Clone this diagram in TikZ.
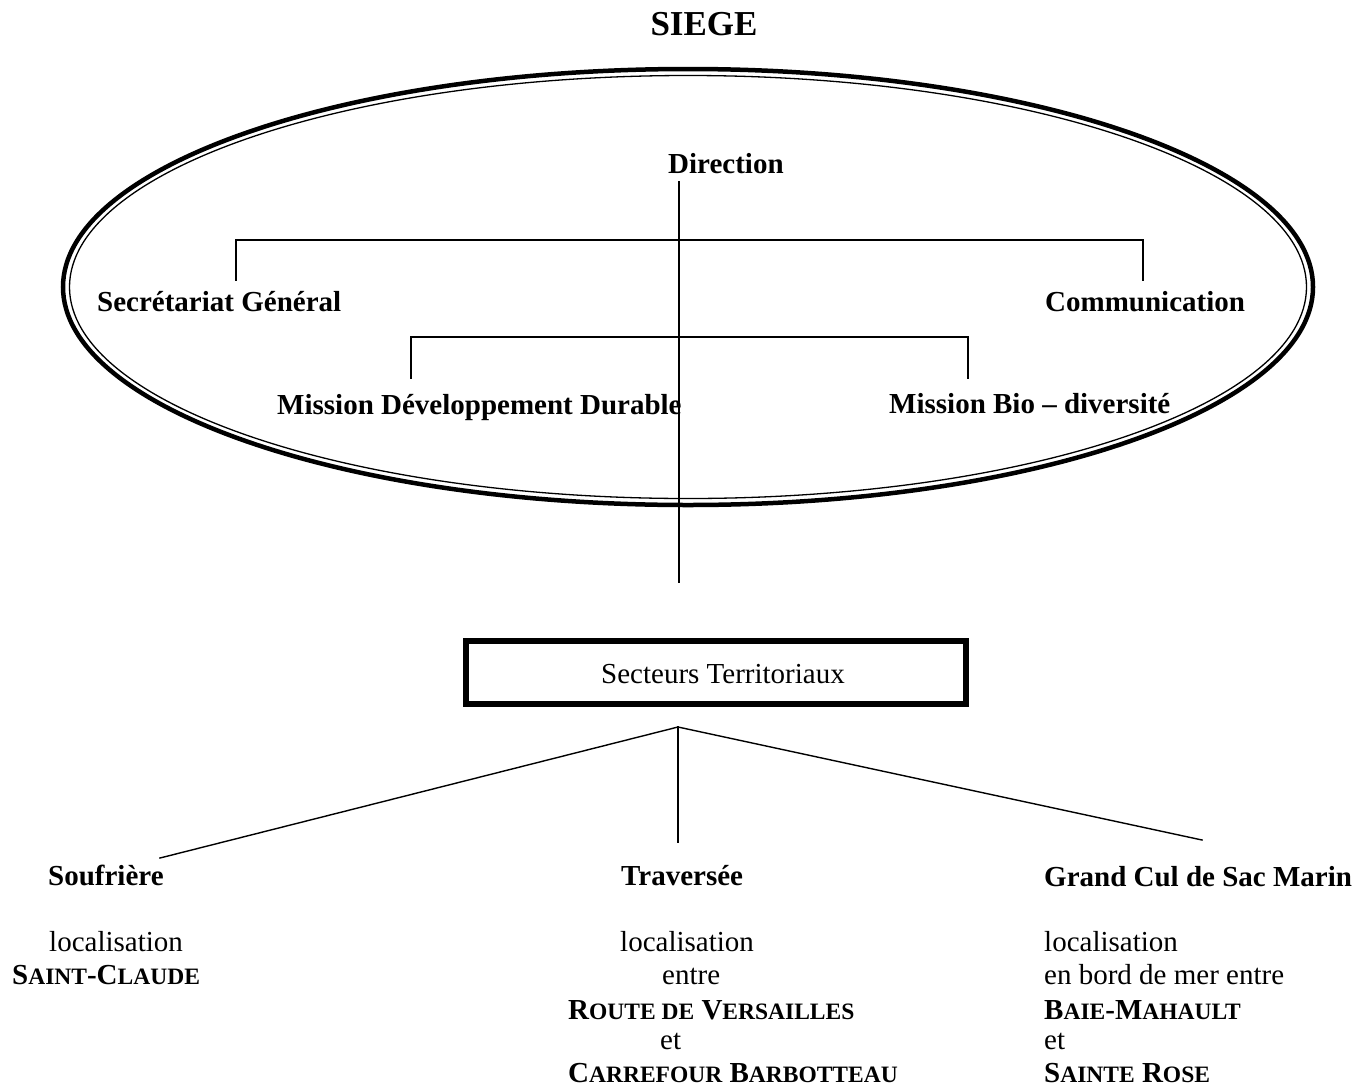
\documentclass[tikz,border=0pt]{standalone}
\usepackage{fontspec}
\setmainfont{Liberation Serif}
\newcommand\bsz{\fontsize{29}{33}\selectfont}
\newcommand\scz{\fontsize{23.5}{33}\selectfont}
\begin{document}
\begin{tikzpicture}[x=1pt,y=-1pt,
  bl/.style={inner sep=0pt,anchor=base west,font=\bsz\bfseries},
  rg/.style={inner sep=0pt,anchor=base west,font=\bsz},
  ln/.style={line width=1.4pt,line cap=rect}]
\useasboundingbox[fill=white] (0,0) rectangle (1367,1087);
% title
\node[inner sep=0pt,anchor=base,font=\fontsize{35}{40}\selectfont\bfseries] (siege) at (704,35) {SIEGE};
% ellipse frame
\draw[line width=4.5pt] (688,287) ellipse [x radius=625, y radius=218];
\draw[line width=1.3pt] (688,287) ellipse [x radius=618.5, y radius=211.5];
% ellipse contents
\node[bl] (dir) at (668,173) {Direction};
\node[bl] (sg) at (97,311) {Secrétariat Général};
\node[bl] (com) at (1045,311) {Communication};
\node[bl] (mdd) at (277,414) {Mission Développement Durable};
\node[bl] (mbd) at (889,413) {Mission Bio -- diversité};
\coordinate (vtop) at (679,182);
\coordinate (vend) at (679,582);
\coordinate (b1l) at (236,280);
\coordinate (b1r) at (1143,280);
\coordinate (b2l) at (411,378);
\coordinate (b2r) at (968,378);
\draw[ln] (vtop) -- (vend);
\draw[ln] (b1l) |- (679,240) -| (b1r);
\draw[ln] (b2l) |- (679,337) -| (b2r);
% box
\node[draw,line width=6pt,minimum width=500pt,minimum height=63pt,inner sep=0pt] (box) at (716,672.5) {};
\node[rg] (sect) at (601,683) {Secteurs Territoriaux};
% branches
\coordinate (apex) at (678,727);
\coordinate (eL) at (160,858);
\coordinate (eM) at (678,842);
\coordinate (eR) at (1202,840);
\draw[ln] (eL) -- (apex) -- (eR);
\draw[ln] (apex) -- (eM);
% left column
\node[bl] (souf) at (48,885) {Soufrière};
\node[rg] (loc1) at (49,951) {localisation};
\node[bl] (sc) at (12,984) {S{\scz AINT}-C{\scz LAUDE}};
% middle column
\node[bl] (trav) at (621,885) {Traversée};
\node[rg] (loc2) at (620,951) {localisation};
\node[rg] (entre) at (662,984) {entre};
\node[bl] (rv) at (568,1019) {R{\scz OUTE DE} V{\scz ERSAILLES}};
\node[rg] (et1) at (660,1049) {et};
\node[bl] (cb) at (568,1082) {C{\scz ARREFOUR} B{\scz ARBOTTEAU}};
% right column
\node[bl] (gcsm) at (1044,886) {Grand Cul de Sac Marin};
\node[rg] (loc3) at (1044,951) {localisation};
\node[rg] (bord) at (1044,984) {en bord de mer entre};
\node[bl] (bm) at (1044,1019) {B{\scz AIE}-M{\scz AHAULT}};
\node[rg] (et2) at (1044,1049) {et};
\node[bl] (sr) at (1044,1082) {S{\scz AINTE} R{\scz OSE}};
\end{tikzpicture}
\end{document}
